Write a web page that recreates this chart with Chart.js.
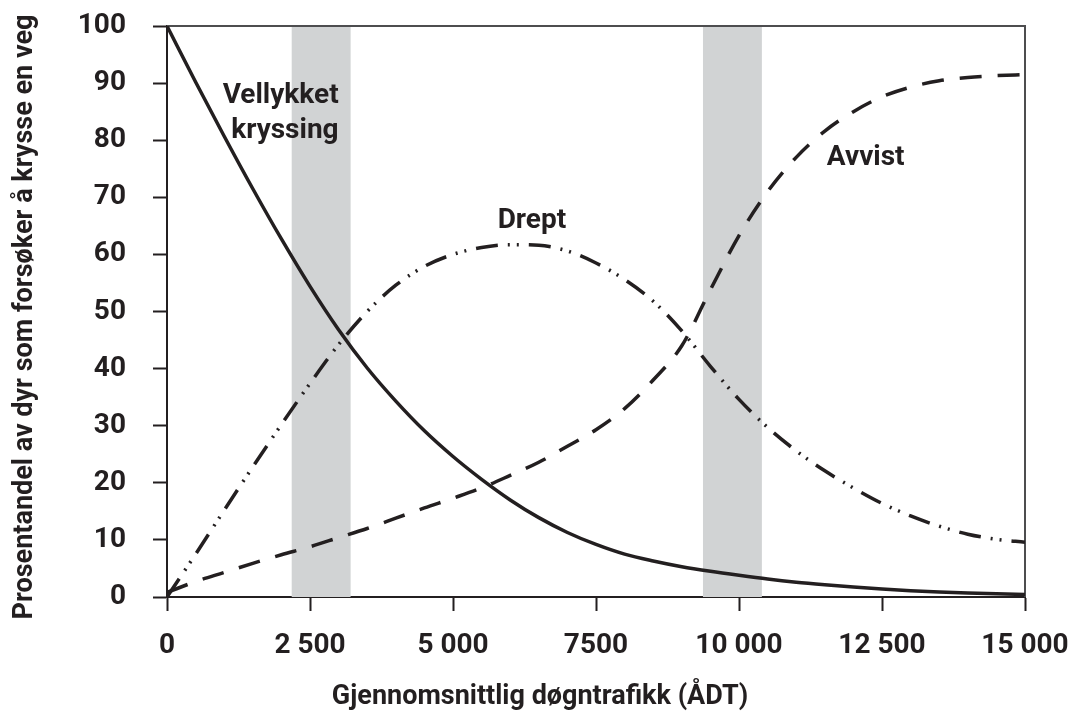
<!DOCTYPE html>
<html lang="no">
<head>
<meta charset="utf-8">
<title>Prosentandel av dyr som forsøker å krysse en veg</title>
<script src="https://cdn.jsdelivr.net/npm/chart.js@4.4.1/dist/chart.umd.min.js"></script>
<style>
  html, body { margin: 0; padding: 0; background: #ffffff; }
  #wrap { position: relative; width: 1074px; height: 711px; }
</style>
</head>
<body>
<div id="wrap"><canvas id="chart"></canvas></div>
<script>
// Gjennomsnittlig døgntrafikk (ÅDT), step 500
const adt = [0, 500, 1000, 1500, 2000, 2500, 3000, 3500, 4000, 4500, 5000,
             5500, 6000, 6500, 7000, 7500, 8000, 8500, 9000, 9500, 10000,
             10500, 11000, 11500, 12000, 12500, 13000, 13500, 14000, 14500, 15000];

// Prosent av dyrene
const vellykket = [100, 90.2, 80.7, 71.5, 62.7, 54.4, 46.8, 40.1, 34.3, 29.1, 24.6,
                   20.6, 17.0, 13.9, 11.3, 9.2, 7.5, 6.3, 5.3, 4.5, 3.8,
                   3.15, 2.6, 2.15, 1.75, 1.4, 1.1, 0.88, 0.7, 0.55, 0.42];
const drept     = [0, 7.5, 15.2, 22.8, 30.2, 37.4, 44.2, 50.0, 54.6, 57.9, 60.0,
                   61.2, 61.7, 61.6, 60.6, 58.5, 55.6, 51.8, 46.6, 40.4, 34.6,
                   29.7, 25.6, 22.1, 19.1, 16.4, 14.2, 12.4, 11.0, 10.1, 9.6];
const avvist    = [0.8, 2.7, 4.3, 5.9, 7.4, 8.8, 10.4, 12.0, 13.8, 15.6, 17.3,
                   19.1, 21.3, 23.6, 26.4, 29.3, 33.0, 38.0, 44.0, 53.8, 63.3,
                   71.0, 77.0, 81.6, 85.0, 87.6, 89.3, 90.4, 91.0, 91.3, 91.5];

// Akse-etiketter
const xTickValues = [0, 2500, 5000, 7500, 10000, 12500, 15000];
const xTickLabels = ['0', '2 500', '5 000', '7500', '10 000', '12 500', '15 000'];
const xTitle = 'Gjennomsnittlig døgntrafikk (ÅDT)';
const yTitle = 'Prosentandel av dyr som forsøker å krysse en veg';

// Grå felt langs ÅDT-aksen (fra, til)
const bandFrom = [2180, 9370];
const bandTo   = [3210, 10400];

// Kurvetekster (ÅDT, prosent)
const curveLabels = [
  { text: 'Vellykket', x: 3000,  y: 86.5, align: 'right' },
  { text: 'kryssing',  x: 3000,  y: 80.4, align: 'right' },
  { text: 'Drept',     x: 6380,  y: 64.6, align: 'center' },
  { text: 'Avvist',    x: 12215, y: 75.7, align: 'center' }
];

const INK = '#231f20';
const FONT = 'Roboto, "Liberation Sans", sans-serif';

const toPoints = (ys) => adt.map((x, i) => ({ x: x, y: ys[i] }));

const bandsPlugin = {
  id: 'bands',
  beforeDatasetsDraw(chart) {
    const { ctx, chartArea, scales } = chart;
    ctx.save();
    ctx.fillStyle = '#d1d3d4';
    for (let i = 0; i < bandFrom.length; i++) {
      const x0 = scales.x.getPixelForValue(bandFrom[i]);
      const x1 = scales.x.getPixelForValue(bandTo[i]);
      ctx.fillRect(x0, chartArea.top, x1 - x0, chartArea.bottom - chartArea.top);
    }
    ctx.restore();
  }
};

const framePlugin = {
  id: 'frame',
  beforeDatasetsDraw(chart) {
    const { ctx, chartArea } = chart;
    ctx.save();
    ctx.strokeStyle = '#4d4d4f';
    ctx.lineWidth = 2;
    ctx.beginPath();
    ctx.moveTo(chartArea.left, chartArea.top);
    ctx.lineTo(chartArea.right, chartArea.top);
    ctx.lineTo(chartArea.right, chartArea.bottom);
    ctx.stroke();
    ctx.restore();
  }
};

const labelsPlugin = {
  id: 'curveLabels',
  afterDatasetsDraw(chart) {
    const { ctx, scales } = chart;
    ctx.save();
    ctx.fillStyle = INK;
    ctx.font = 'bold 28px ' + FONT;
    ctx.textBaseline = 'alphabetic';
    curveLabels.forEach(l => {
      ctx.textAlign = l.align;
      ctx.fillText(l.text, scales.x.getPixelForValue(l.x), scales.y.getPixelForValue(l.y));
    });
    ctx.restore();
  }
};

const titlesPlugin = {
  id: 'axisTitles',
  afterDraw(chart) {
    const { ctx } = chart;
    ctx.save();
    ctx.fillStyle = INK;
    ctx.font = 'bold 27px ' + FONT;
    ctx.textAlign = 'center';
    ctx.textBaseline = 'alphabetic';
    ctx.fillText(xTitle, 540, 704);
    ctx.translate(25, 317);
    ctx.rotate(-Math.PI / 2);
    ctx.textBaseline = 'middle';
    ctx.fillText(yTitle, 0, 0);
    ctx.restore();
  }
};

const axisTicks = {
  drawOnChartArea: false,
  drawTicks: true,
  tickLength: 14,
  tickWidth: 2,
  tickColor: INK
};

new Chart(document.getElementById('chart'), {
  type: 'line',
  data: {
    datasets: [
      {
        label: 'Vellykket kryssing',
        data: toPoints(vellykket),
        borderColor: INK,
        borderWidth: 3.5
      },
      {
        label: 'Drept',
        data: toPoints(drept),
        borderColor: INK,
        borderWidth: 3.5,
        borderDash: [22, 10, 2, 7, 2, 10]
      },
      {
        label: 'Avvist',
        data: toPoints(avvist),
        borderColor: INK,
        borderWidth: 3.5,
        borderDash: [22, 16]
      }
    ]
  },
  options: {
    responsive: true,
    maintainAspectRatio: false,
    animation: false,
    devicePixelRatio: 1,
    layout: { padding: { top: 26, right: 49, bottom: 0, left: 0 } },
    elements: {
      point: { radius: 0, hoverRadius: 0 },
      line: { cubicInterpolationMode: 'monotone', borderCapStyle: 'butt', fill: false }
    },
    plugins: {
      legend: { display: false },
      tooltip: { enabled: false }
    },
    scales: {
      x: {
        type: 'linear',
        min: 0,
        max: 15000,
        afterBuildTicks(scale) { scale.ticks = xTickValues.map(v => ({ value: v })); },
        afterFit(scale) {
          scale.height = 114;
          scale.paddingLeft = 0;
          scale.paddingRight = 0;
        },
        ticks: {
          autoSkip: false,
          maxRotation: 0,
          padding: 18,
          color: INK,
          font: { family: FONT, size: 28, weight: 'bold' },
          callback(v) { return xTickLabels[xTickValues.indexOf(v)]; }
        },
        grid: axisTicks,
        border: { display: true, color: INK, width: 2 }
      },
      y: {
        min: 0,
        max: 100,
        afterFit(scale) {
          scale.width = 167;
          scale.paddingTop = 0;
          scale.paddingBottom = 0;
        },
        ticks: {
          stepSize: 10,
          padding: 27,
          color: INK,
          font: { family: FONT, size: 28, weight: 'bold' }
        },
        grid: axisTicks,
        border: { display: true, color: INK, width: 2 }
      }
    }
  },
  plugins: [bandsPlugin, framePlugin, labelsPlugin, titlesPlugin]
});
</script>
</body>
</html>
